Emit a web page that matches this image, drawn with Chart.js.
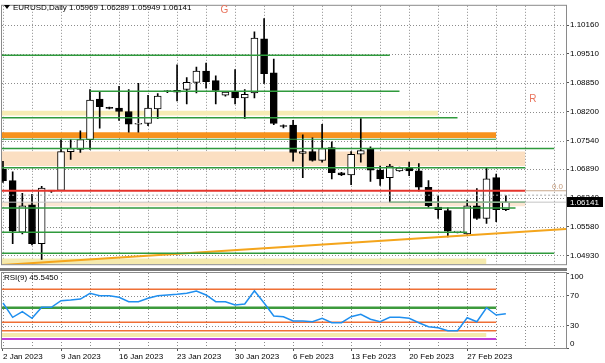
<!DOCTYPE html>
<html>
<head>
<meta charset="utf-8">
<script src="https://cdn.jsdelivr.net/npm/chart.js@4.4.0/dist/chart.umd.min.js"></script>
<style>
html, body { margin: 0; padding: 0; background: #fff; }
#wrap { position: relative; width: 605px; height: 363px; overflow: hidden; }
canvas { position: absolute; left: 0; }
#main { top: 0; }
#rsi { top: 270px; }
#sep { position: absolute; left: 0; width: 567px; top: 268px; height: 3px; background: #7a7a7a; }
</style>
</head>
<body>
<div id="wrap">
  <canvas id="main" width="605" height="270"></canvas>
  <canvas id="rsi" width="605" height="93"></canvas>
  <div id="sep"></div>
</div>
<script>
// EURUSD daily, 2 Jan - 3 Mar 2023 (Sunday bars included)
const opens  = [1.0689,1.0663,1.0546,1.0608,1.0520,1.0639,1.0641,1.0729,1.0734,1.0756,1.0848,1.0829,1.0828,1.0820,1.0791,1.0793,1.0826,1.0865,1.0864,1.0870,1.0886,1.0912,1.0890,1.0857,1.0864,1.0851,1.0862,1.0985,1.0908,1.0788,1.0789,1.0725,1.0729,1.0709,1.0738,1.0681,1.0676,1.0723,1.0736,1.0687,1.0670,1.0685,1.0692,1.0685,1.0648,1.0603,1.0595,1.0546,1.0542,1.0606,1.0577,1.0670,1.05969];
const highs  = [1.0707,1.0683,1.0634,1.0632,1.0650,1.0641,1.0756,1.0756,1.0776,1.0870,1.0866,1.0830,1.0877,1.0870,1.0884,1.0857,1.0861,1.0868,1.0926,1.0897,1.0921,1.0930,1.0901,1.0866,1.0915,1.0870,1.1001,1.1031,1.0939,1.0790,1.0800,1.0767,1.0760,1.0791,1.0751,1.0682,1.0729,1.0804,1.0740,1.0696,1.0700,1.0694,1.0705,1.0702,1.0663,1.0628,1.0601,1.0548,1.0619,1.0645,1.0692,1.0678,1.06289];
const lows   = [1.0659,1.0520,1.0542,1.0517,1.0484,1.0636,1.0640,1.0711,1.0727,1.0734,1.0782,1.0826,1.0800,1.0773,1.0773,1.0788,1.0804,1.0863,1.0844,1.0837,1.0862,1.0873,1.0837,1.0855,1.0837,1.0804,1.0851,1.0884,1.0790,1.0783,1.0707,1.0670,1.0707,1.0705,1.0667,1.0674,1.0654,1.0705,1.0661,1.0652,1.0614,1.0684,1.0674,1.0639,1.0603,1.0577,1.0535,1.0544,1.0541,1.0575,1.0566,1.0570,1.05949];
const closes = [1.0663,1.0548,1.0606,1.0520,1.0646,1.0640,1.0729,1.0736,1.0756,1.0846,1.0831,1.0827,1.0820,1.0791,1.0793,1.0828,1.0855,1.0866,1.0868,1.0886,1.0912,1.0888,1.0868,1.0864,1.0851,1.0859,1.0987,1.0906,1.0793,1.0786,1.0727,1.0729,1.0709,1.0736,1.0681,1.0676,1.0723,1.0731,1.0687,1.0667,1.0696,1.0692,1.0685,1.0648,1.0606,1.0597,1.0548,1.0546,1.0606,1.0577,1.0667,1.0597,1.06141];
const rsi = [60,40.9,48.4,39.6,54.3,54.3,63.1,64,65.3,72.9,69.7,69.7,67.6,61.7,61.7,66.3,69.7,70.7,71.6,73,76,70.7,61.7,61.7,57.3,58.7,76.4,60,42.7,41.7,36,36,35,39.6,33.7,33.7,41.7,44.9,38.3,35,40.9,40.9,39.6,33.7,28.4,27.1,23.1,23.1,40.4,35,53.7,44,45.545];

const tickIdx = [0, 6, 12, 18, 24, 30, 36, 42, 48];
const tickLabels = ['2 Jan 2023','9 Jan 2023','16 Jan 2023','23 Jan 2023','30 Jan 2023','6 Feb 2023','13 Feb 2023','20 Feb 2023','27 Feb 2023'];
const priceTicks = [1.04930, 1.05580, 1.06240, 1.06890, 1.07540, 1.08200, 1.08850, 1.09510, 1.10160];
const rsiTicks = [0, 30, 70, 100];
const rsiGridTicks = [30, 70];

// horizontal objects on the price panel: price, first bar, last bar
const levelPrice = [1.0948, 1.0866, 1.0806, 1.0757, 1.0736, 1.0692, 1.0640, 1.0640, 1.0630, 1.06141, 1.0614, 1.0601, 1.0546, 1.0498];
const levelFrom  = [-0.3, 9, -0.3, -0.3, -0.3, -0.3, -0.3, 54, -0.3, -0.3, 40, -0.3, -0.3, -0.3];
const levelTo    = [40, 41, 47, 51, 57, 54, 54, 58.3, 58.3, 58.3, 54, 53, 48, 57];
const bandTop    = [1.0822, 1.0773, 1.0729, 1.0614, 1.0486];
const bandBottom = [1.0811, 1.0760, 1.0696, 1.0605, 1.0460];
const bandFrom   = [-0.3, -0.3, -0.3, -0.3, -0.3];
const bandTo     = [45, 51, 54, 54, 50];
const trendX = [-0.31, 58.22];
const trendY = [1.0471, 1.0553];
const fibLevel = 1.0640;
const marks = ['G', 'R'];
const markX = [22.9, 54.8];
const markY = [1.1051, 1.0848];

// RSI panel objects
const rsiLevel = [78.3, 53.7, 34.3, 23.1, 12];
const rsiLevelTo = [51, 51, 51, 51, 51];
const rsiBandTop = 20, rsiBandBottom = 14.7, rsiBandTo = 50;

// styles
const GREEN = '#2f9a3c';
const GRID = '#8c8c8c';
const levelColor = [GREEN, GREEN, GREEN, GREEN, GREEN, GREEN, '#e5342c', '#c9a98c', '#a8a8a8', '#c4c4c4', GREEN, GREEN, GREEN, GREEN];
const levelWidth = [1.5, 1.5, 1.5, 1, 1.5, 1.5, 2, 1, 1, 1, 1.5, 1.5, 1.5, 1.5];
const levelDash  = [[], [], [], [], [], [], [], [], [2, 2], [], [], [], [], []];
const bandColor  = ['#f6ebb4', '#f7921e', '#fbdfc2', '#fbe6d2', '#f4e9ad'];
const rsiLevelColor = ['#ef6f35', '#3c9a3c', '#ef6f35', '#ef6f35', '#c13fd8'];
const rsiLevelWidth = [1.5, 2.5, 1.5, 1.5, 2];

const FONT = '"Liberation Sans", Arial, sans-serif';
Chart.defaults.font.family = FONT;
Chart.defaults.font.size = 8;
Chart.defaults.color = '#000';

const xMin = -0.103, xMax = 58.22;
const gridIdx = [];
for (let v = 0; v <= 57; v += 3) gridIdx.push(v);

const N = opens.length;
const idx = opens.map((_, i) => i);
const bodyFill = idx.map(i => closes[i] >= opens[i] ? '#ffffff' : '#000000');

const lineSets = levelPrice.map((p, k) => ({
    type: 'line',
    data: [{x: levelFrom[k], y: p}, {x: levelTo[k], y: p}],
    borderColor: levelColor[k],
    borderWidth: levelWidth[k],
    borderDash: levelDash[k],
    pointRadius: 0,
    fill: false,
    order: -1
}));
const bandSets = bandTop.map((p, k) => ({
    type: 'line',
    data: [{x: bandFrom[k], y: p}, {x: bandTo[k], y: p}],
    borderColor: 'transparent',
    borderWidth: 1,
    backgroundColor: bandColor[k],
    fill: {value: bandBottom[k]},
    pointRadius: 0,
    order: 5
}));

// dotted grid from the scales' own ticks, under the datasets
const dotGrid = {
    id: 'dotGrid',
    beforeDatasetsDraw(chart, args, opts) {
        const {ctx, chartArea: a, scales: {x, y}} = chart;
        ctx.save();
        ctx.strokeStyle = GRID;
        ctx.lineWidth = 1;
        ctx.setLineDash([1, 2]);
        ctx.beginPath();
        x.ticks.forEach(t => {
            const px = Math.round(x.getPixelForValue(t.value)) + 0.5;
            ctx.moveTo(px, a.top); ctx.lineTo(px, a.bottom);
        });
        y.ticks.forEach(t => {
            if (opts.yValues && !opts.yValues.includes(t.value)) return;
            const py = Math.round(y.getPixelForValue(t.value)) + 0.5;
            ctx.moveTo(a.left, py); ctx.lineTo(a.right, py);
        });
        ctx.stroke();
        ctx.restore();
    }
};

const xScale = {
    type: 'linear',
    min: xMin,
    max: xMax,
    offset: false,
    afterBuildTicks: s => { s.ticks = gridIdx.map(v => ({value: v})); },
    border: {display: false}
};

const mainDecor = {
    id: 'mainDecor',
    afterDraw(chart) {
        const {ctx, chartArea: a, scales: {x, y}} = chart;
        ctx.save();
        ctx.strokeStyle = '#8a8a8a';
        ctx.lineWidth = 1;
        ctx.strokeRect(a.left - 0.5, a.top - 0.5, a.right - a.left + 1, a.bottom - a.top + 1);

        // header
        ctx.fillStyle = '#000';
        ctx.beginPath();
        ctx.moveTo(4, 5); ctx.lineTo(10, 5); ctx.lineTo(7, 9); ctx.closePath();
        ctx.fill();
        ctx.font = '8px ' + FONT;
        ctx.textBaseline = 'middle';
        ctx.textAlign = 'left';
        const last = N - 1;
        ctx.fillText('EURUSD,Daily ' + [opens[last], highs[last], lows[last], closes[last]].map(v => v.toFixed(5)).join(' '), 13, 7.5);

        // text marks
        ctx.font = '10px ' + FONT;
        ctx.fillStyle = '#e9735c';
        ctx.textAlign = 'center';
        marks.forEach((m, k) => ctx.fillText(m, x.getPixelForValue(markX[k]), y.getPixelForValue(markY[k])));

        // fib label
        ctx.font = '8px ' + FONT;
        ctx.fillStyle = '#c49a7a';
        ctx.textAlign = 'right';
        ctx.fillText('0.0', a.right - 3, y.getPixelForValue(fibLevel) - 4);

        // current price box
        const py = Math.round(y.getPixelForValue(closes[last]));
        ctx.fillStyle = '#000';
        ctx.fillRect(a.right + 1, py - 5, 36, 10);
        ctx.fillStyle = '#fff';
        ctx.textAlign = 'left';
        ctx.fillText(closes[last].toFixed(5), a.right + 4, py + 0.5);
        ctx.restore();
    }
};

new Chart(document.getElementById('main'), {
    type: 'bar',
    data: {
        datasets: [
            {
                type: 'bar',
                data: idx.map(i => ({x: i, y: [opens[i], closes[i]]})),
                backgroundColor: bodyFill,
                borderColor: '#000',
                borderWidth: 1,
                borderSkipped: false,
                barThickness: 7,
                maxBarThickness: 7,
                minBarLength: 1,
                grouped: false,
                order: 0
            },
            {
                type: 'bar',
                data: idx.map(i => ({x: i, y: [lows[i], highs[i]]})),
                backgroundColor: '#000',
                borderWidth: 0,
                barThickness: 1,
                maxBarThickness: 1,
                grouped: false,
                order: 1
            },
            ...lineSets,
            {
                type: 'line',
                data: [{x: trendX[0], y: trendY[0]}, {x: trendX[1], y: trendY[1]}],
                borderColor: '#f4a51c',
                borderWidth: 2,
                pointRadius: 0,
                fill: false,
                order: -1
            },
            ...bandSets
        ]
    },
    options: {
        responsive: false,
        animation: false,
        devicePixelRatio: 1,
        layout: {padding: {left: 2, top: 2, right: 0, bottom: 2}},
        plugins: {legend: {display: false}, tooltip: {enabled: false}, dotGrid: {}},
        scales: {
            x: {
                ...xScale,
                afterFit: s => { s.height = 0; },
                ticks: {display: false},
                grid: {display: false}
            },
            y: {
                position: 'right',
                min: 1.04732,
                max: 1.10601,
                afterBuildTicks: s => { s.ticks = priceTicks.map(v => ({value: v})); },
                afterFit: s => { s.width = 39; },
                ticks: {callback: v => v.toFixed(5), padding: 1, autoSkip: false, color: '#000'},
                grid: {drawOnChartArea: false, tickLength: 3, tickColor: '#555'},
                border: {display: false}
            }
        }
    },
    plugins: [dotGrid, mainDecor]
});

const rsiDecor = {
    id: 'rsiDecor',
    afterDraw(chart) {
        const {ctx, chartArea: a, scales: {y}} = chart;
        ctx.save();
        ctx.strokeStyle = '#8a8a8a';
        ctx.lineWidth = 1;
        ctx.strokeRect(a.left - 0.5, a.top - 0.5, a.right - a.left + 1, a.bottom - a.top + 1);
        ctx.fillStyle = '#000';
        ctx.font = '8px ' + FONT;
        ctx.textBaseline = 'middle';
        ctx.textAlign = 'left';
        ctx.fillText('RSI(9) ' + rsi[N - 1].toFixed(4), 4, 8);
        rsiTicks.forEach(v => {
            const py = Math.min(Math.max(y.getPixelForValue(v), a.top + 4), a.bottom - 4);
            ctx.fillText(String(v), a.right + 4, py);
        });
        ctx.restore();
    }
};

new Chart(document.getElementById('rsi'), {
    type: 'line',
    data: {
        datasets: [
            {
                data: idx.map(i => ({x: i, y: rsi[i]})),
                borderColor: '#1f8fef',
                borderWidth: 1.5,
                pointRadius: 0,
                fill: false,
                tension: 0,
                order: 0
            },
            ...rsiLevel.map((v, k) => ({
                data: [{x: -0.3, y: v}, {x: rsiLevelTo[k], y: v}],
                borderColor: rsiLevelColor[k],
                borderWidth: rsiLevelWidth[k],
                pointRadius: 0,
                fill: false,
                order: 1
            })),
            {
                data: [{x: -0.3, y: rsiBandTop}, {x: rsiBandTo, y: rsiBandTop}],
                borderColor: 'transparent',
                borderWidth: 1,
                backgroundColor: '#f4e9ad',
                fill: {value: rsiBandBottom},
                pointRadius: 0,
                order: 2
            }
        ]
    },
    options: {
        responsive: false,
        animation: false,
        devicePixelRatio: 1,
        layout: {padding: {left: 2, top: 3, right: 0, bottom: 0}},
        plugins: {legend: {display: false}, tooltip: {enabled: false}, dotGrid: {yValues: rsiGridTicks}},
        scales: {
            x: {
                ...xScale,
                afterFit: s => { s.height = 15; },
                ticks: {
                    callback: v => { const k = tickIdx.indexOf(v); return k >= 0 ? tickLabels[k] : ''; },
                    align: 'start',
                    maxRotation: 0,
                    autoSkip: false,
                    padding: 1,
                    color: '#000'
                },
                grid: {
                    drawOnChartArea: false,
                    tickLength: 3,
                    tickColor: c => tickIdx.includes(c.tick.value) ? '#555' : 'transparent'
                }
            },
            y: {
                position: 'right',
                min: 0,
                max: 100,
                afterBuildTicks: s => { s.ticks = rsiTicks.map(v => ({value: v})); },
                afterFit: s => { s.width = 39; },
                ticks: {display: false},
                grid: {drawOnChartArea: false, tickLength: 3, tickColor: '#555'},
                border: {display: false}
            }
        }
    },
    plugins: [dotGrid, rsiDecor]
});
</script>
</body>
</html>
